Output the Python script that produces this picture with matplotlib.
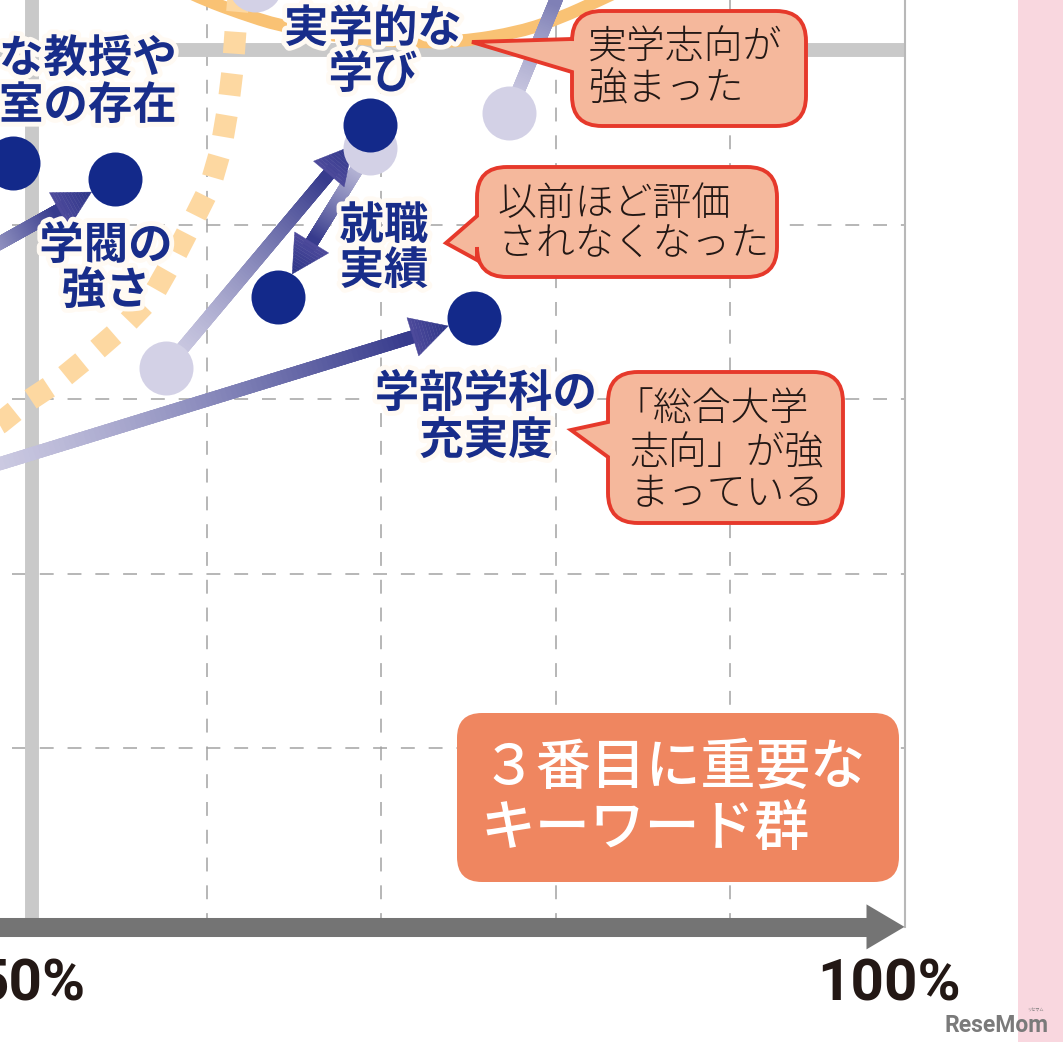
import numpy as np
import matplotlib
matplotlib.use("Agg")
import matplotlib.pyplot as plt
from matplotlib.collections import LineCollection
from matplotlib.patches import Polygon, PathPatch, FancyBboxPatch, Rectangle
from matplotlib.path import Path
import matplotlib.patheffects as pe
from matplotlib.colors import to_rgb

plt.rcParams['font.family'] = ['Noto Sans CJK JP', 'DejaVu Sans']
plt.rcParams['lines.scale_dashes'] = False

# ------------------------------------------------------------------ data (%)
items = ["魅力的な教授や研究室の存在", "学閥の強さ", "実学的な学び", "就職実績",
         "学部学科の充実度", "上方の項目A", "上方の項目B"]
old_x = [np.nan, 44.73, 57.68, 69.37, 45.87, 77.34, 62.78]
old_y = [np.nan, 37.03, 31.78, 44.38, 25.59, 46.39, 53.72]
new_x = [48.91, 54.76, 69.37, 64.10, 75.33, 83.12, np.nan]
new_y = [43.52, 42.61, 45.70, 35.85, 34.64, 60.32, np.nan]

# orange group outlines (%)
solid_curve_x = [58.48, 59.91, 61.92, 64.21, 67.65, 71.09, 74.53, 77.97, 80.26, 82.55, 83.98]
solid_curve_y = [53.55, 52.87, 52.12, 51.38, 50.74, 50.46, 50.46, 51.03, 51.83, 52.87, 53.55]
dotted_curve_x = [61.92, 61.69, 61.52, 61.23, 60.83, 60.20, 59.17, 58.08, 56.88, 55.21,
                  53.50, 51.60, 49.60, 48.17, 46.45]
dotted_curve_y = [54.01, 51.49, 49.09, 46.68, 44.33, 42.15, 40.09, 37.97, 35.85, 34.13,
                  32.64, 31.09, 29.77, 28.62, 27.65]

x_grid = [60, 70, 80, 90]
y_grid = [10, 20, 30, 40]
x_tick_labels = {50: "50%", 100: "100%"}

# ------------------------------------------------------------------ layout helpers
W, H = 1063, 1042
PX = 17.45  # pixels per percent


def px2x(px):
    return 50 + (px - 32) / PX


def px2y(py):
    return 50 - (py - 50) / PX


fig = plt.figure(figsize=(W / 100, H / 100), dpi=100)
ax = fig.add_axes([0, 0, 1, 1])
ax.set_xlim(px2x(0), px2x(W))
ax.set_ylim(px2y(H), px2y(0))
ax.axis('off')

NAVY = '#13298a'
NAVY_TXT = '#182d8a'
LIGHT = '#d3d1e6'
ARROW_DARK = '#363a8c'
TXT = '#231815'
CALL_FILL = '#f5b89c'
CALL_EDGE = '#e6392b'

top = px2y(0)
left = px2x(0)
right = px2x(W)
axis_y = -0.25

# pink band at the right
ax.add_patch(Rectangle((px2x(1018), px2y(H) - 1), right - px2x(1018) + 1, top - px2y(H) + 2,
                       facecolor='#f9d7df', edgecolor='none', zorder=0))

# dashed grid
for gx in x_grid:
    ax.plot([gx, gx], [axis_y, top + 1], color='#a3a3a3', lw=1.1,
            linestyle=(0, (10, 10)), zorder=1)
for gy in y_grid:
    ax.plot([px2x(12), 100], [gy, gy], color='#a3a3a3', lw=1.1,
            linestyle=(0, (10, 10)), zorder=1)

# thick 50% cross lines
ax.plot([50, 50], [axis_y, top + 1], color='#c9c9c9', lw=10, solid_capstyle='butt', zorder=1.5)
ax.plot([left - 1, 100], [50, 50], color='#c9c9c9', lw=10, solid_capstyle='butt', zorder=1.5)
# right border
ax.plot([100, 100], [axis_y, top + 1], color='#b8b8b8', lw=1.5, zorder=1.5)

# x axis arrow
head_base = 100 - 38 / PX
ax.plot([left - 1, head_base + 0.1], [axis_y, axis_y], color='#747474', lw=13.7,
        solid_capstyle='butt', zorder=2)
ax.add_patch(Polygon([[head_base, axis_y + 22.5 / PX], [100, axis_y],
                      [head_base, axis_y - 22.5 / PX]], closed=True,
                     facecolor='#747474', edgecolor='none', zorder=2))

# orange group outlines: solid one drawn as a smooth quadratic spline through the points
sx, sy = np.array(solid_curve_x), np.array(solid_curve_y)
mx, my = (sx[:-1] + sx[1:]) / 2, (sy[:-1] + sy[1:]) / 2
verts = [(sx[0], sy[0]), (mx[0], my[0])]
codes = [Path.MOVETO, Path.LINETO]
for i in range(1, len(sx) - 1):
    verts += [(sx[i], sy[i]), (mx[i], my[i])]
    codes += [Path.CURVE3, Path.CURVE3]
verts.append((sx[-1], sy[-1]))
codes.append(Path.LINETO)
ax.add_patch(PathPatch(Path(verts, codes), facecolor='none', edgecolor='#f9c274',
                       lw=9.0, capstyle='butt', joinstyle='round', zorder=2.5))
ax.plot(dotted_curve_x, dotted_curve_y, color='#fdd8a1', lw=15.8,
        linestyle=(6.5, (15.8, 14.4)), dash_capstyle='butt', zorder=2.5)


# gradient arrows old -> new
def mix(c0, c1, t):
    a, b = np.array(to_rgb(c0)), np.array(to_rgb(c1))
    return tuple(a + (b - a) * t)


r_dot = 27 / PX
head_len = 37 / PX
head_hw = 20 / PX
for ox, oy, nx, ny in zip(old_x, old_y, new_x, new_y):
    if np.isnan(ox) or np.isnan(nx):
        continue
    d = np.array([nx - ox, ny - oy])
    L = np.hypot(*d)
    u = d / L
    nrm = np.array([-u[1], u[0]])
    tip = np.array([nx, ny]) - u * r_dot
    base = tip - u * head_len
    end = base + u * (2 / PX)
    n = 90
    t = np.linspace(0, 1, n + 1)
    xs = ox + (end[0] - ox) * t
    ys = oy + (end[1] - oy) * t
    segs = np.stack([np.column_stack([xs[:-1], ys[:-1]]),
                     np.column_stack([xs[1:], ys[1:]])], axis=1)
    cols = [mix(LIGHT, ARROW_DARK, ((t[i] + t[i + 1]) / 2) ** 1.3) for i in range(n)]
    ax.add_collection(LineCollection(segs, colors=cols, linewidths=9.4,
                                     capstyle='projecting', zorder=3))
    # arrow head with a slight back-to-tip gradient
    m = 12
    for k in range(m):
        a0, a1 = k / m, (k + 1) / m
        p0 = base + u * head_len * a0
        p1 = base + u * head_len * a1
        w0, w1 = head_hw * (1 - a0), head_hw * (1 - a1)
        c = mix('#4e4b9c', '#2c3487', (a0 + a1) / 2)
        ax.add_patch(Polygon([p0 + nrm * w0, p1 + nrm * w1, p1 - nrm * w1, p0 - nrm * w0],
                             closed=True, facecolor=c, edgecolor=c, lw=0.3, zorder=3.2))

dot_s = (54 * 0.72) ** 2
ax.scatter(old_x, old_y, s=dot_s, color=LIGHT, linewidths=0, zorder=4)
ax.scatter(new_x, new_y, s=dot_s, color=NAVY, linewidths=0, zorder=5)

# navy item labels (line texts, px layout)
halo = [pe.withStroke(linewidth=7, foreground='#fffaf3')]
navy_labels = [
    (["な教授や", "室の存在"], 177, [59, 106], 'right'),
    (["学閥の", "強さ"], 106, [246, 291], 'center'),
    (["実学的な", "学び"], 373, [29, 75], 'center'),
    (["就職", "実績"], 384, [226, 271], 'center'),
    (["学部学科の", "充実度"], 486, [394, 441], 'center'),
]
for lines, lx, lys, ha in navy_labels:
    for s, ly in zip(lines, lys):
        ax.text(px2x(lx), px2y(ly), s, ha=ha, va='center', fontsize=32,
                color=NAVY_TXT, fontweight='bold', path_effects=halo, zorder=6)


# callouts
def callout(x0, y0, x1, y1, r, tt, tb, tipx, tipy):
    P = lambda a, b: (px2x(a), px2y(b))
    verts = [P(x0 + r, y0), P(x1 - r, y0), P(x1, y0), P(x1, y0 + r),
             P(x1, y1 - r), P(x1, y1), P(x1 - r, y1),
             P(x0 + r, y1), P(x0, y1), P(x0, y1 - r),
             P(x0, tb), P(tipx, tipy), P(x0, tt),
             P(x0, y0 + r), P(x0, y0), P(x0 + r, y0), P(x0 + r, y0)]
    codes = [Path.MOVETO, Path.LINETO, Path.CURVE3, Path.CURVE3,
             Path.LINETO, Path.CURVE3, Path.CURVE3,
             Path.LINETO, Path.CURVE3, Path.CURVE3,
             Path.LINETO, Path.LINETO, Path.LINETO,
             Path.LINETO, Path.CURVE3, Path.CURVE3, Path.CLOSEPOLY]
    ax.add_patch(PathPatch(Path(verts, codes), facecolor=CALL_FILL, edgecolor=CALL_EDGE,
                           lw=2.8, joinstyle='miter', zorder=7))


callouts = [
    ((572, 11, 806, 126, 30, 39, 72, 472, 42), ["実学志向が", "強まった"],
     [588, 588], [48, 90]),
    ((477, 167, 777, 277, 30, 216, 260, 446, 243), ["以前ほど評価", "されなくなった"],
     [497, 497], [204, 245]),
    ((608, 372, 843, 523, 30, 422, 457, 571, 430), ["「総合大学", "志向」が強", "まっている"],
     [614, 630, 630], [409, 454, 494]),
]
for geo, lines, txs, tys in callouts:
    callout(*geo)
    for s, tx, ty in zip(lines, txs, tys):
        ax.text(px2x(tx), px2y(ty), s, ha='left', va='center', fontsize=28,
                color=TXT, fontweight='light', zorder=8)

# orange keyword box
bx0, by0, bx1, by1 = 457, 713, 899, 882
ax.add_patch(FancyBboxPatch((px2x(bx0), px2y(by1)), (bx1 - bx0) / PX, (by1 - by0) / PX,
                            boxstyle='round,pad=0,rounding_size=%f' % (25 / PX),
                            facecolor='#ef8660', edgecolor='none', zorder=7))
for s, ty in zip(["３番目に重要な", "キーワード群"], [768, 829]):
    ax.text(px2x(481), px2y(ty), s, ha='left', va='center', fontsize=39.5,
            color='white', fontweight='medium', zorder=8)

# x tick labels
ax.text(px2x(86), px2y(985), x_tick_labels[50], ha='right', va='center', fontsize=42,
        family=['Roboto', 'DejaVu Sans'], fontweight='bold', color=TXT, zorder=8)
ax.text(px2x(889), px2y(985), x_tick_labels[100], ha='center', va='center', fontsize=42,
        family=['Roboto', 'DejaVu Sans'], fontweight='bold', color=TXT, zorder=8)

# watermark
ax.text(px2x(1049), px2y(1025), "ReseMom", ha='right', va='center', fontsize=16.5,
        family=['Roboto', 'DejaVu Sans'], fontweight='bold', color='#7a7a7a', zorder=8)
ax.text(px2x(1035), px2y(1010), "リセマム", ha='center', va='center', fontsize=3,
        color='#7a7a7a', zorder=8)

fig.savefig("out.png", dpi=100)
